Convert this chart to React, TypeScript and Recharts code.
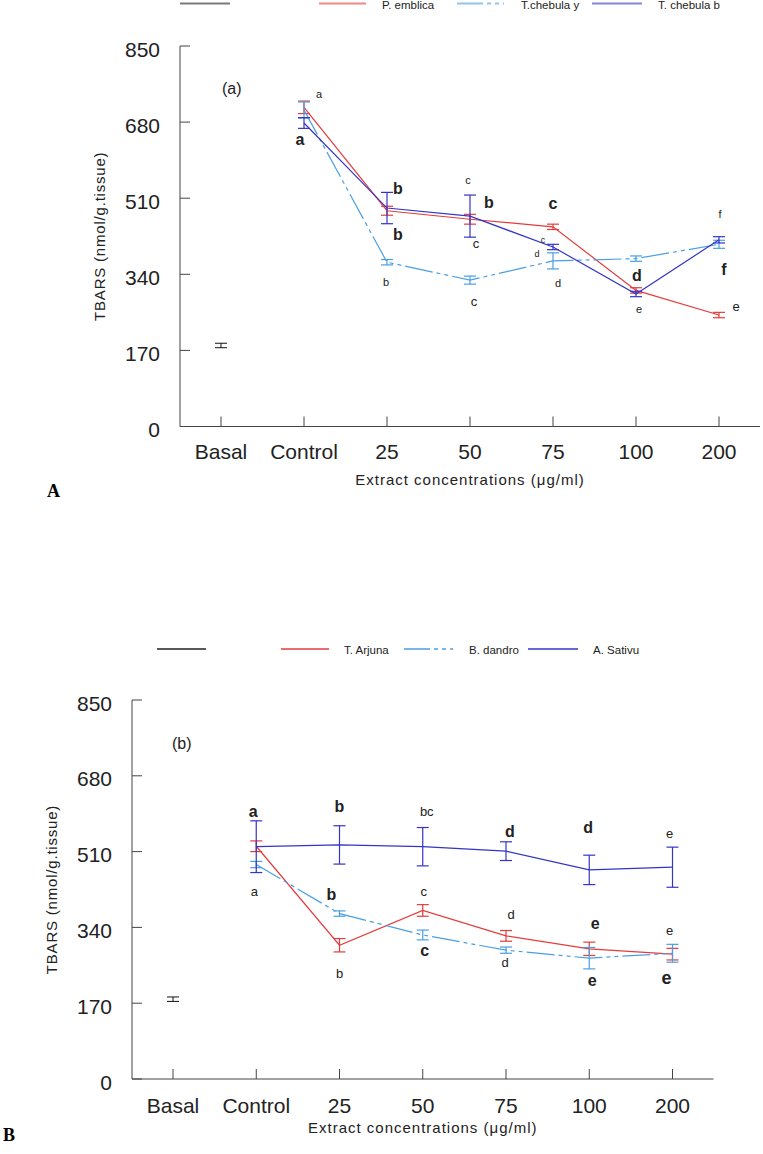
import React from 'react';
import { LineChart, Line, XAxis, YAxis, ErrorBar, ReferenceDot, Label } from 'recharts';

// ---------- data ----------
const categories = ['Basal', 'Control', '25', '50', '75', '100', '200'];
const yTicks = [0, 170, 340, 510, 680, 850];

// Panel A
const basalA = [181, null, null, null, null, null, null];
const basalAErr = [5, null, null, null, null, null, null];
const pEmblica = [null, 713, 482, 463, 446, 304, 249];
const pEmblicaErr = [null, 14, 10, 11, 6, 6, 6];
const tChebulaY = [null, 707, 367, 327, 370, 375, 407];
const tChebulaYErr = [null, 18, 6, 9, 18, 6, 9];
const tChebulaB = [null, 678, 488, 470, 401, 296, 417];
const tChebulaBErr = [null, 12, 35, 47, 6, 6, 7];

// Panel B
const basalB = [179, null, null, null, null, null, null];
const basalBErr = [5, null, null, null, null, null, null];
const tArjuna = [null, 522, 300, 378, 321, 292, 280];
const tArjunaErr = [null, 12, 15, 13, 12, 15, 13];
const bDandro = [null, 481, 371, 323, 289, 271, 282];
const bDandroErr = [null, 7, 6, 11, 7, 24, 20];
const aSativu = [null, 521, 525, 521, 511, 469, 475];
const aSativuErr = [null, 58, 43, 43, 21, 33, 45];

const namesA = ['P. emblica', 'T.chebula y', 'T. chebula b'];
const namesB = ['T. Arjuna', 'B. dandro', 'A. Sativu'];

// significance letters: [category, value, letter, kind, dx]
const lettersA: [string, number, string, string, number][] = [
  ['Control', 743, 'a', 's', 15],
  ['Control', 642, 'a', 'b', -4],
  ['25', 532, 'b', 'b', 11],
  ['25', 430, 'b', 'b', 11],
  ['25', 323, 'b', 's', -1],
  ['50', 551, 'c', 's', -2],
  ['50', 500, 'b', 'b', 19],
  ['50', 408, 'c', 'm', 6],
  ['50', 279, 'c', 'm', 4],
  ['75', 499, 'c', 'b', 0],
  ['75', 417, 'c', 'x', -10],
  ['75', 385, 'd', 'x', -16],
  ['75', 320, 'd', 's', 5],
  ['100', 338, 'd', 'b', 1],
  ['100', 262, 'e', 's', 3],
  ['200', 475, 'f', 's', 1],
  ['200', 350, 'f', 'b', 5],
  ['200', 268, 'e', 'm', 17],
];
const lettersB: [string, number, string, string, number][] = [
  ['Control', 600, 'a', 'b', -3],
  ['Control', 420, 'a', 'm', -2],
  ['25', 611, 'b', 'b', 0],
  ['25', 413, 'b', 'b', -8],
  ['25', 237, 'b', 'm', 0],
  ['50', 599, 'bc', 'm', 4],
  ['50', 420, 'c', 'm', 1],
  ['50', 288, 'c', 'b', 2],
  ['75', 556, 'd', 'b', 4],
  ['75', 370, 'd', 'm', 5],
  ['75', 262, 'd', 'm', -1],
  ['100', 564, 'd', 'b', -1],
  ['100', 348, 'e', 'b', 6],
  ['100', 220, 'e', 'b', 3],
  ['200', 550, 'e', 'm', -3],
  ['200', 332, 'e', 'm', -3],
  ['200', 227, 'e', 'B', -6],
];

// ---------- styles ----------
const FONT = 'Arial, "Liberation Sans", sans-serif';
const RED = '#e53b3b';
const LBLUE = '#4a9fe3';
const BLUE = '#3434c8';
const AXIS = '#444';
const DASH = '28 4 4 4 4 4';
const letterStyle: Record<string, { size: number; weight: string }> = {
  x: { size: 9, weight: 'normal' },
  s: { size: 11, weight: 'normal' },
  m: { size: 13, weight: 'normal' },
  b: { size: 16, weight: 'bold' },
  B: { size: 18, weight: 'bold' },
};

const rowsA = categories.map((c, i) => ({
  cat: c,
  basal: basalA[i], basalErr: basalAErr[i],
  s1: pEmblica[i], s1e: pEmblicaErr[i],
  s2: tChebulaY[i], s2e: tChebulaYErr[i],
  s3: tChebulaB[i], s3e: tChebulaBErr[i],
}));
const rowsB = categories.map((c, i) => ({
  cat: c,
  basal: basalB[i], basalErr: basalBErr[i],
  s1: tArjuna[i], s1e: tArjunaErr[i],
  s2: bDandro[i], s2e: bDandroErr[i],
  s3: aSativu[i], s3e: aSativuErr[i],
}));

const YTick = (props: any) => {
  const { x, y, payload } = props;
  return (
    <g>
      <line x1={x} x2={x + 10} y1={y} y2={y} stroke={AXIS} strokeWidth={1} />
      <text x={x - 20} y={y + 3} textAnchor="end" dominantBaseline="central" fontSize={21} fontFamily={FONT} fill="#222">
        {payload.value}
      </text>
    </g>
  );
};

const makeXTick = (labelGap: number) => (props: any) => {
  const { x, y, payload } = props;
  return (
    <g>
      <line x1={x} x2={x} y1={y} y2={y - 10} stroke={AXIS} strokeWidth={1} />
      <text x={x} y={y + labelGap} textAnchor="middle" dominantBaseline="central" fontSize={21} fontFamily={FONT} fill="#222">
        {payload.value}
      </text>
    </g>
  );
};

type PanelProps = {
  rows: any[];
  letters: [string, number, string, string, number][];
  width: number;
  height: number;
  margin: { top: number; right: number; bottom: number; left: number };
  pad: number;
  labelGap: number;
  titleGap: number;
  yLabelOffset: number;
};

const Panel = ({ rows, letters, width, height, margin, pad, labelGap, titleGap, yLabelOffset }: PanelProps) => (
  <LineChart width={width} height={height} data={rows} margin={margin}>
    <XAxis
      dataKey="cat"
      type="category"
      padding={{ left: pad, right: pad }}
      axisLine={{ stroke: AXIS, strokeWidth: 1 }}
      tickLine={false}
      tickSize={0}
      tickMargin={0}
      height={40}
      interval={0}
      tick={makeXTick(labelGap)}
    >
      <Label
        content={(p: any) => {
          const vb = p.viewBox;
          return (
            <text x={vb.x + vb.width / 2} y={vb.y + titleGap} textAnchor="middle" dominantBaseline="central" fontSize={15} letterSpacing={1} fontFamily={FONT} fill="#222">
              Extract concentrations (μg/ml)
            </text>
          );
        }}
      />
    </XAxis>
    <YAxis
      type="number"
      domain={[0, 850]}
      ticks={yTicks}
      width={60}
      axisLine={{ stroke: AXIS, strokeWidth: 1 }}
      tickLine={false}
      tickSize={0}
      tickMargin={0}
      tick={<YTick />}
    >
      <Label
        content={(p: any) => {
          const vb = p.viewBox;
          const cx = vb.x + vb.width - yLabelOffset;
          const cy = vb.y + vb.height / 2;
          return (
            <text x={cx} y={cy} transform={`rotate(-90 ${cx} ${cy})`} textAnchor="middle" dominantBaseline="central" fontSize={15} letterSpacing={0.8} fontFamily={FONT} fill="#222">
              TBARS  (nmol/g.tissue)
            </text>
          );
        }}
      />
    </YAxis>
    <Line dataKey="basal" stroke="#111" strokeWidth={1} dot={false} isAnimationActive={false}>
      <ErrorBar dataKey="basalErr" width={6} stroke="#111" strokeWidth={1} />
    </Line>
    <Line dataKey="s1" stroke={RED} strokeWidth={1.2} dot={false} isAnimationActive={false}>
      <ErrorBar dataKey="s1e" width={6} stroke={RED} strokeWidth={1.2} />
    </Line>
    <Line dataKey="s2" stroke={LBLUE} strokeWidth={1.2} strokeDasharray={DASH} dot={false} isAnimationActive={false}>
      <ErrorBar dataKey="s2e" width={6} stroke={LBLUE} strokeWidth={1.2} />
    </Line>
    <Line dataKey="s3" stroke={BLUE} strokeWidth={1.2} dot={false} isAnimationActive={false}>
      <ErrorBar dataKey="s3e" width={6} stroke={BLUE} strokeWidth={1.2} />
    </Line>
    {letters.map((l, i) => {
      const st = letterStyle[l[3]];
      return (
        <ReferenceDot
          key={i}
          x={l[0]}
          y={l[1]}
          r={0}
          shape={(p: any) => (
            <text x={p.cx + l[4]} y={p.cy} textAnchor="middle" dominantBaseline="central" fontSize={st.size} fontWeight={st.weight} fontFamily={FONT} fill="#222">
              {l[2]}
            </text>
          )}
        />
      );
    })}
  </LineChart>
);

const LegendRow = ({ y, names, pos, faint }: { y: number; names: string[]; pos: number[][]; faint: boolean }) => {
  const colors = ['#222', RED, LBLUE, BLUE];
  const dashes = [undefined, undefined, '26 4 4 4 4 4', undefined];
  return (
    <g>
      {pos.map((p, i) => (
        <g key={i}>
          <line x1={p[0]} x2={p[1]} y1={y} y2={y} stroke={colors[i]} strokeWidth={faint ? 2 : 1.5} strokeOpacity={faint ? 0.6 : 1} strokeDasharray={dashes[i]} />
          {i > 0 && (
            <text x={p[2]} y={y + 1} dominantBaseline="central" fontSize={11.5} fontFamily={FONT} fill="#222">
              {names[i - 1]}
            </text>
          )}
        </g>
      ))}
    </g>
  );
};

export default function App() {
  return (
    <div style={{ position: 'absolute', left: 0, top: 0, width: 763, height: 1154, background: '#fff', fontFamily: FONT }}>
      <div style={{ position: 'absolute', left: 0, top: 0 }}>
        <Panel
          rows={rowsA}
          letters={lettersA}
          width={763}
          height={500}
          margin={{ top: 46, right: 3, left: 120, bottom: 33.5 }}
          pad={41}
          labelGap={25}
          titleGap={53}
          yLabelOffset={81}
        />
      </div>
      <div style={{ position: 'absolute', left: 0, top: 600 }}>
        <Panel
          rows={rowsB}
          letters={lettersB}
          width={763}
          height={554}
          margin={{ top: 100, right: 49.5, left: 72, bottom: 35 }}
          pad={41}
          labelGap={26}
          titleGap={48}
          yLabelOffset={81}
        />
      </div>
      <svg width={763} height={1154} style={{ position: 'absolute', left: 0, top: 0, pointerEvents: 'none' }}>
        <LegendRow y={3.5} names={namesA} faint={true} pos={[[180, 230], [319, 366, 382], [457, 504, 521], [592, 642, 658]]} />
        <LegendRow y={649} names={namesB} faint={false} pos={[[157, 206], [281, 329, 344], [404, 453, 469], [528, 578, 593]]} />
        <text x={222} y={88} dominantBaseline="central" fontSize={16} fontFamily={FONT} fill="#222">(a)</text>
        <text x={172} y={743} dominantBaseline="central" fontSize={16} fontFamily={FONT} fill="#222">(b)</text>
        <text x={47} y={497} fontSize={18} fontWeight="bold" fontFamily='"Liberation Serif", "DejaVu Serif", serif' fill="#000">A</text>
        <text x={3} y={1141} fontSize={18} fontWeight="bold" fontFamily='"Liberation Serif", "DejaVu Serif", serif' fill="#000">B</text>
      </svg>
    </div>
  );
}
